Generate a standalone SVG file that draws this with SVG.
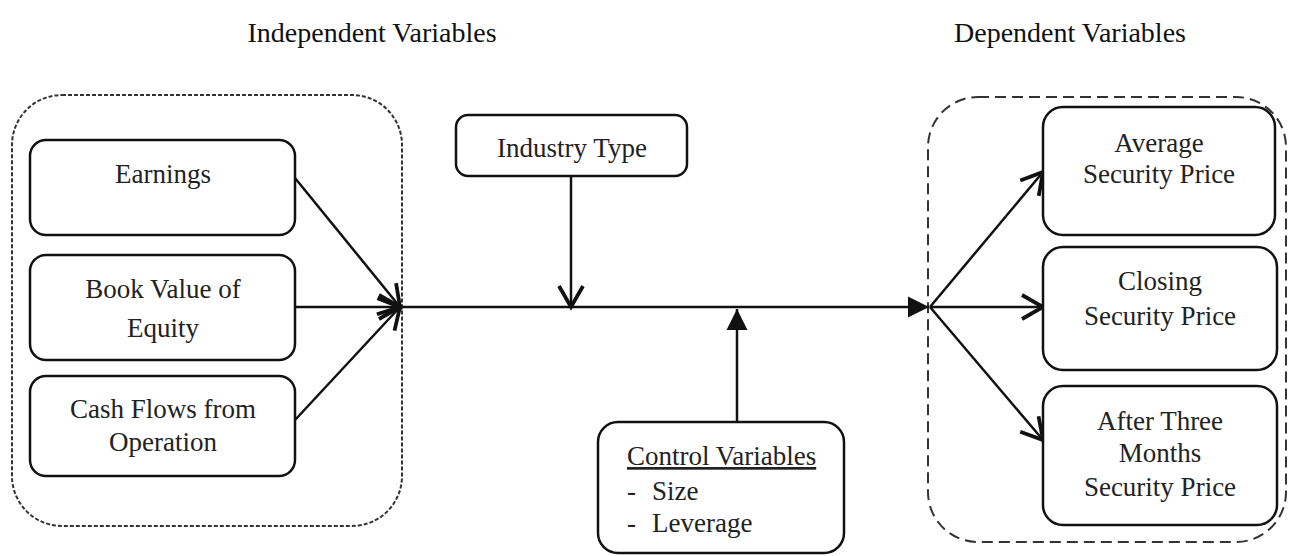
<svg xmlns="http://www.w3.org/2000/svg" width="1289" height="556" viewBox="0 0 1289 556">
<defs>
<style>
text{font-family:"Liberation Serif","Times New Roman",serif;font-size:27px;fill:#222;text-anchor:middle}
.hdr{font-size:28px;fill:#111}
.box{fill:#fff;stroke:#111;stroke-width:2.5}
.grp{fill:none;stroke:#333;stroke-width:2}
.con{fill:none;stroke:#111;stroke-width:2.5}
</style>
<marker id="open" markerUnits="userSpaceOnUse" markerWidth="30" markerHeight="30" viewBox="-16 -10 18 20" refX="0" refY="0" orient="auto">
<path d="M-14,-8 L0,0 L-14,8" fill="none" stroke="#111" stroke-width="2.5"/>
</marker>
<marker id="fill" markerUnits="userSpaceOnUse" markerWidth="30" markerHeight="30" viewBox="-16 -10 18 20" refX="0" refY="0" orient="auto">
<path d="M-14,-7 L0,0 L-14,7 Z" fill="#111"/>
</marker>
</defs>
<rect width="1289" height="556" fill="#fff"/>

<g id="headers">
<text class="hdr" x="372" y="42">Independent Variables</text>
<text class="hdr" x="1070" y="42">Dependent Variables</text>
</g>

<g id="independent-group">
<rect class="grp" x="12" y="95" width="390" height="431" rx="50" stroke-dasharray="4 2"/>
</g>
<g id="dependent-group">
<rect class="grp" x="928" y="97" width="358" height="445" rx="50" stroke-dasharray="11 6"/>
</g>

<g id="connectors">
<line class="con" x1="295" y1="178" x2="400" y2="307" marker-end="url(#open)"/>
<line class="con" x1="295" y1="307" x2="400" y2="307" marker-end="url(#open)"/>
<line class="con" x1="295" y1="420" x2="400" y2="307" marker-end="url(#open)"/>
<line class="con" x1="400" y1="307" x2="929" y2="307" marker-end="url(#fill)"/>
<line class="con" x1="571" y1="176" x2="571" y2="307" marker-end="url(#open)"/>
<line class="con" x1="737" y1="422" x2="737" y2="309" marker-end="url(#fill)"/>
<line class="con" x1="930" y1="307" x2="1043" y2="172" marker-end="url(#open)"/>
<line class="con" x1="930" y1="307" x2="1043" y2="307" marker-end="url(#open)"/>
<line class="con" x1="930" y1="307" x2="1043" y2="440" marker-end="url(#open)"/>
</g>

<g id="earnings">
<rect class="box" x="30" y="140" width="265" height="95" rx="16"/>
<text x="163" y="183">Earnings</text>
</g>
<g id="book-value">
<rect class="box" x="30" y="255" width="265" height="105" rx="16"/>
<text x="163" y="298">Book Value of</text>
<text x="163" y="337">Equity</text>
</g>
<g id="cash-flows">
<rect class="box" x="30" y="376" width="265" height="100" rx="16"/>
<text x="163" y="418">Cash Flows from</text>
<text x="163" y="451">Operation</text>
</g>

<g id="industry-type">
<rect class="box" x="456" y="115" width="231" height="61" rx="12"/>
<text x="572" y="157">Industry Type</text>
</g>

<g id="control-variables">
<rect class="box" x="598" y="422" width="246" height="131" rx="20"/>
<text x="627" y="465" style="text-anchor:start;text-decoration:underline">Control Variables</text>
<text x="627" y="500" style="text-anchor:start">-</text>
<text x="652" y="500" style="text-anchor:start">Size</text>
<text x="627" y="532" style="text-anchor:start">-</text>
<text x="652" y="532" style="text-anchor:start">Leverage</text>
</g>

<g id="average-price">
<rect class="box" x="1043" y="107" width="232" height="128" rx="20"/>
<text x="1159" y="152">Average</text>
<text x="1159" y="183">Security Price</text>
</g>
<g id="closing-price">
<rect class="box" x="1043" y="247" width="234" height="123" rx="20"/>
<text x="1160" y="290">Closing</text>
<text x="1160" y="325">Security Price</text>
</g>
<g id="after-three-months">
<rect class="box" x="1043" y="386" width="234" height="139" rx="20"/>
<text x="1160" y="430">After Three</text>
<text x="1160" y="462">Months</text>
<text x="1160" y="496">Security Price</text>
</g>
</svg>
